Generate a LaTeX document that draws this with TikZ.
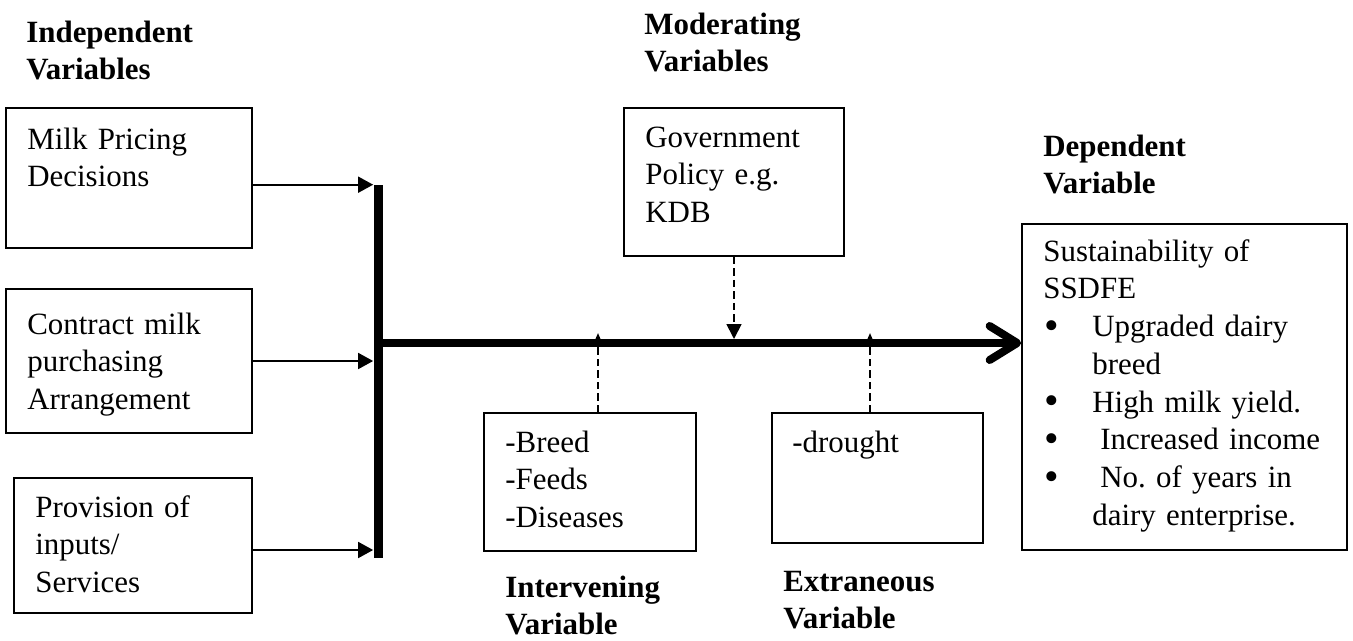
\documentclass[tikz,border=0pt]{standalone}
\usepackage{fontspec}
\setmainfont{Liberation Serif}
\usetikzlibrary{arrows.meta}
\frenchspacing

\tikzset{
  box/.style={draw, line width=0.035cm, inner sep=0pt},
  txt/.style={anchor=base west, inner sep=0pt, text width=6cm, align=left,
    font=\fontsize{17.6}{21.5}\selectfont},
  head/.style={txt, font=\fontsize{17.6}{21.5}\selectfont\bfseries},
  feed/.style={line width=0.035cm, -{Triangle[length=0.3cm,width=0.32cm]}},
  hint/.style={line width=0.035cm, dash pattern=on 0.15cm off 0.08cm},
}
\newcommand{\itm}{\makebox[0.98cm][l]{\hspace{0.03cm}\smash{\raisebox{-0.08em}{\scalebox{1.35}{\textbullet}}}}}
\newcommand{\ind}{\hspace*{0.98cm}}

\begin{document}
\begin{tikzpicture}[x=0.02cm, y=-0.02cm]
	%\draw[help lines] (0,0) grid (1353,640);
	\useasboundingbox (0,0) rectangle (1353,640);
	% headings
	\node[head] (indep) at (26,42) {Independent\\Variables};
	\node[head] (moder) at (644,34) {Moderating\\Variables};
	\node[head] (depen) at (1043,156) {Dependent\\Variable};
	\node[head] (inter) at (505,597) {Intervening\\Variable};
	\node[head] (extra) at (783,591) {Extraneous\\Variable};
	% boxes
	\node[box, minimum width=4.92cm, minimum height=2.8cm] (milk) at (129,178) {};
	\node[box, minimum width=4.92cm, minimum height=2.88cm] (cont) at (129,361) {};
	\node[box, minimum width=4.76cm, minimum height=2.7cm] (prov) at (133,545.5) {};
	\node[box, minimum width=4.4cm, minimum height=2.96cm] (gov) at (734,182) {};
	\node[box, minimum width=4.24cm, minimum height=2.76cm] (brd) at (590,482) {};
	\node[box, minimum width=4.22cm, minimum height=2.6cm] (drt) at (877.5,478) {};
	\node[box, minimum width=6.5cm, minimum height=6.52cm] (dep) at (1184.5,387) {};
	% texts
	\node[txt] (milkt) at (27,149) {Milk Pricing\\Decisions};
	\node[txt] (contt) at (27,334) {Contract milk\\purchasing\\Arrangement};
	\node[txt] (provt) at (35,517) {Provision of\\inputs/\\Services};
	\node[txt] (govt) at (645,147) {Government\\Policy e.g.\\KDB};
	\node[txt] (brdt) at (505,452) {-Breed\\-Feeds\\-Diseases};
	\node[txt] (drtt) at (792,452) {-drought};
	\node[txt] (sust) at (1043,261) {Sustainability of\\SSDFE\\
		\itm Upgraded dairy\\ \ind breed\\
		\itm High milk yield.\\
		\itm\hspace{0.16cm}Increased income\\
		\itm\hspace{0.16cm}No. of years in\\ \ind dairy enterprise.};
	% bar and main arrow
	\node[fill, inner sep=0pt, minimum width=0.18cm, minimum height=7.46cm] (bar) at (378,371.5) {};
	\coordinate (hub) at (378,343);
	\draw[feed] (milk.east |- bar.north) -- (bar.north west);
	\draw[feed] (cont.east) -- (cont.east -| bar.west);
	\draw[feed] (prov.east |- 0,550) -- (bar.west |- 0,550);
	\draw[line width=0.16cm, -{Straight Barb[length=0.55cm,width=0.68cm,round]}] (bar.east |- hub) -- (dep.west |- hub);
	% dashed influences
	\draw[hint, -{Triangle[length=0.3cm,width=0.3cm]}, shorten >=0.08cm] (gov.south) -- (gov.south |- hub);
	\coordinate (brdin) at ([xshift=0.16cm]brd.north);
	\coordinate (drtin) at ([xshift=-0.15cm]drt.north);
	\draw[hint, -{Triangle[length=0.2cm,width=0.16cm]}, shorten >=-0.2cm] (brdin) -- (brdin |- hub);
	\draw[hint, -{Triangle[length=0.2cm,width=0.16cm]}, shorten >=-0.2cm] (drtin) -- (drtin |- hub);
\end{tikzpicture}
\end{document}
